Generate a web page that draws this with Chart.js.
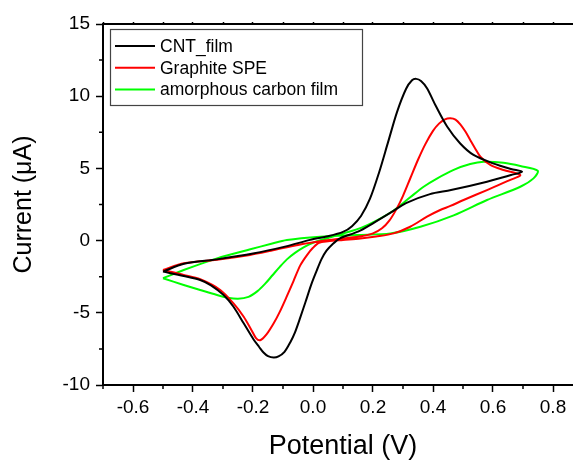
<!DOCTYPE html>
<html>
<head>
<meta charset="utf-8">
<script src="https://cdn.jsdelivr.net/npm/chart.js@4"></script>
<style>
  body { margin: 0; background: #fff; }
  #wrap { width: 573px; height: 460px; overflow: hidden; }
</style>
</head>
<body>
<div id="wrap"><canvas id="cv" width="600" height="460"></canvas></div>
<script>
// series names
const seriesNames = ['CNT_film', 'Graphite SPE', 'amorphous carbon film'];

// CNT film loop: forward scan then reverse scan (V, µA)
const cntPotential = [-0.50, -0.43, -0.32, -0.20, -0.09, -0.01, 0.05, 0.10, 0.13, 0.16, 0.19, 0.22, 0.25, 0.28, 0.31, 0.33, 0.344, 0.36, 0.38, 0.41, 0.447, 0.49, 0.535, 0.60, 0.66, 0.697,
  0.66, 0.58, 0.46, 0.39, 0.31, 0.26, 0.20, 0.15, 0.09, 0.065, 0.045, 0.028, 0.012, -0.005, -0.025, -0.042, -0.06, -0.076, -0.095, -0.115, -0.131, -0.15, -0.165, -0.18, -0.198, -0.231, -0.265, -0.298, -0.34, -0.376, -0.431, -0.50];
const cntCurrent = [-2.15, -1.60, -1.30, -0.90, -0.40, 0.05, 0.30, 0.60, 1.00, 1.70, 2.90, 4.70, 6.80, 8.90, 10.50, 11.10, 11.20, 11.05, 10.55, 9.30, 7.90, 6.74, 5.93, 5.35, 4.96, 4.77,
  4.54, 4.08, 3.50, 3.22, 2.60, 1.95, 1.20, 0.62, 0.16, -0.25, -0.70, -1.30, -2.10, -3.00, -4.25, -5.30, -6.35, -7.05, -7.70, -8.02, -8.10, -8.00, -7.75, -7.35, -6.85, -5.73, -4.58, -3.77, -3.10, -2.73, -2.45, -2.15];

// Graphite SPE loop
const graphitePotential = [-0.50, -0.43, -0.32, -0.21, -0.14, -0.05, 0.024, 0.10, 0.16, 0.20, 0.23, 0.255, 0.28, 0.30, 0.324, 0.35, 0.375, 0.40, 0.42, 0.44, 0.458, 0.475, 0.491, 0.508, 0.524, 0.54, 0.558, 0.591, 0.635, 0.691,
  0.658, 0.58, 0.502, 0.458, 0.424, 0.38, 0.324, 0.269, 0.21, 0.158, 0.10, 0.05, 0.02, 0.0, -0.02, -0.042, -0.065, -0.087, -0.11, -0.131, -0.155, -0.176, -0.19, -0.205, -0.231, -0.265, -0.309, -0.376, -0.431, -0.50];
const graphiteCurrent = [-2.04, -1.57, -1.32, -0.99, -0.70, -0.30, -0.05, 0.15, 0.30, 0.50, 0.85, 1.40, 2.25, 3.10, 4.30, 5.60, 6.70, 7.60, 8.10, 8.40, 8.47, 8.38, 8.05, 7.55, 6.97, 6.40, 5.81, 5.24, 4.89, 4.54,
  4.20, 3.50, 2.81, 2.40, 2.12, 1.66, 0.96, 0.50, 0.28, 0.14, 0.04, -0.05, -0.15, -0.50, -1.00, -1.70, -2.80, -3.85, -4.90, -5.73, -6.50, -6.90, -6.75, -6.20, -5.27, -4.35, -3.42, -2.68, -2.38, -2.04];

// amorphous carbon film loop
const carbonPotential = [-0.50, -0.431, -0.376, -0.32, -0.285, -0.25, -0.215, -0.185, -0.16, -0.135, -0.11, -0.087, -0.06, -0.03, 0.0, 0.047, 0.102, 0.16, 0.213, 0.27, 0.324, 0.37, 0.413, 0.469, 0.524, 0.569, 0.635, 0.691, 0.749,
  0.735, 0.691, 0.58, 0.469, 0.358, 0.258, 0.147, 0.024, -0.087, -0.142, -0.209, -0.32, -0.431, -0.50];
const carbonCurrent = [-2.61, -3.07, -3.42, -3.77, -3.95, -4.03, -3.90, -3.50, -3.00, -2.40, -1.80, -1.30, -0.85, -0.45, -0.15, 0.16, 0.50, 0.88, 1.40, 2.10, 3.00, 3.75, 4.30, 4.90, 5.30, 5.46, 5.39, 5.17, 4.84,
  4.31, 3.73, 2.81, 1.75, 0.96, 0.50, 0.39, 0.27, 0.04, -0.24, -0.60, -1.23, -2.04, -2.61];

// axis ticks
const xMajorTicks = [-0.6, -0.4, -0.2, 0.0, 0.2, 0.4, 0.6, 0.8];
const xMinorTicks = [-0.7, -0.5, -0.3, -0.1, 0.1, 0.3, 0.5, 0.7, 0.9];
const yMajorTicks = [-10, -5, 0, 5, 10, 15];
const yMinorTicks = [-7.5, -2.5, 2.5, 7.5, 12.5];

const colors = ['#000000', '#ff0000', '#00ff00'];

function pairs(xs, ys) {
    return xs.map((x, i) => ({ x: x, y: ys[i] }));
}

Chart.defaults.font.family = '"Liberation Sans", Arial, sans-serif';
Chart.defaults.color = '#000';

// short ticks between the labelled ones
const minorTicks = {
    id: 'minorTicks',
    afterDraw(chart) {
        const ctx = chart.ctx;
        const xs = chart.scales.x, ys = chart.scales.y;
        const area = chart.chartArea;
        ctx.save();
        ctx.strokeStyle = '#000';
        ctx.lineWidth = 1.5;
        ctx.beginPath();
        xMinorTicks.forEach(v => {
            const px = xs.getPixelForValue(v);
            ctx.moveTo(px, area.bottom);
            ctx.lineTo(px, area.bottom + 4);
        });
        yMinorTicks.forEach(v => {
            const py = ys.getPixelForValue(v);
            ctx.moveTo(area.left, py);
            ctx.lineTo(area.left - 4, py);
        });
        ctx.stroke();
        ctx.restore();
    }
};

// legend box inside the plot
const boxLegend = {
    id: 'boxLegend',
    afterDraw(chart) {
        const ctx = chart.ctx;
        ctx.save();
        ctx.fillStyle = '#fff';
        ctx.fillRect(110, 29, 253, 77);
        ctx.strokeStyle = '#444';
        ctx.lineWidth = 1.2;
        ctx.strokeRect(110.5, 29.5, 252, 76);
        ctx.font = '17.5px "Liberation Sans", Arial, sans-serif';
        ctx.textBaseline = 'middle';
        chart.data.datasets.forEach((ds, i) => {
            const y = 46 + i * 21.7;
            ctx.strokeStyle = ds.borderColor;
            ctx.lineWidth = 2;
            ctx.beginPath();
            ctx.moveTo(115, y);
            ctx.lineTo(155, y);
            ctx.stroke();
            ctx.fillStyle = '#000';
            ctx.fillText(ds.label, 160, y + 1);
        });
        ctx.restore();
    }
};

const ctx = document.getElementById('cv').getContext('2d');
new Chart(ctx, {
    type: 'scatter',
    data: {
        datasets: [
            { label: seriesNames[0], data: pairs(cntPotential, cntCurrent) },
            { label: seriesNames[1], data: pairs(graphitePotential, graphiteCurrent) },
            { label: seriesNames[2], data: pairs(carbonPotential, carbonCurrent) }
        ].map((ds, i) => Object.assign(ds, {
            showLine: true,
            borderColor: colors[i],
            backgroundColor: colors[i],
            borderWidth: 2,
            pointRadius: 0,
            tension: 0.3,
            fill: false
        }))
    },
    options: {
        responsive: false,
        animation: false,
        layout: { padding: { left: 0, right: 17, top: 24, bottom: 0 } },
        plugins: { legend: { display: false }, tooltip: { enabled: false } },
        scales: {
            x: {
                type: 'linear',
                position: 'bottom',
                min: -0.7,
                max: 0.9,
                afterBuildTicks: s => { s.ticks = xMajorTicks.map(v => ({ value: v })); },
                afterFit: s => { s.height = 75; },
                grid: { drawOnChartArea: false, tickLength: 7, tickWidth: 1.5, tickColor: '#000' },
                border: { display: true, color: '#000', width: 2 },
                ticks: { color: '#000', padding: 4, maxRotation: 0, font: { size: 19 }, callback: v => v.toFixed(1) },
                title: { display: true, text: 'Potential (V)', color: '#000', font: { size: 27, lineHeight: 1 }, padding: { top: 0, bottom: 0 } }
            },
            xTop: {
                type: 'linear',
                position: 'top',
                min: -0.7,
                max: 0.9,
                afterBuildTicks: s => { s.ticks = xMajorTicks.concat(xMinorTicks).map(v => ({ value: v })); },
                afterFit: s => { s.height = 0; },
                grid: { drawOnChartArea: false, tickLength: 2, tickWidth: 1.5, tickColor: '#000' },
                border: { display: true, color: '#000', width: 2 },
                ticks: { display: false }
            },
            y: {
                type: 'linear',
                position: 'left',
                min: -10,
                max: 15,
                afterBuildTicks: s => { s.ticks = yMajorTicks.map(v => ({ value: v })); },
                afterFit: s => { s.width = 103; },
                grid: { drawOnChartArea: false, tickLength: 7, tickWidth: 1.5, tickColor: '#000' },
                border: { display: true, color: '#000', width: 2 },
                ticks: { color: '#000', padding: 6, font: { size: 19 } },
                title: { display: true, text: 'Current (μA)', color: '#000', font: { size: 25, lineHeight: 1 }, padding: { top: 12, bottom: 0 } }
            }
        }
    },
    plugins: [minorTicks, boxLegend]
});
</script>
</body>
</html>
